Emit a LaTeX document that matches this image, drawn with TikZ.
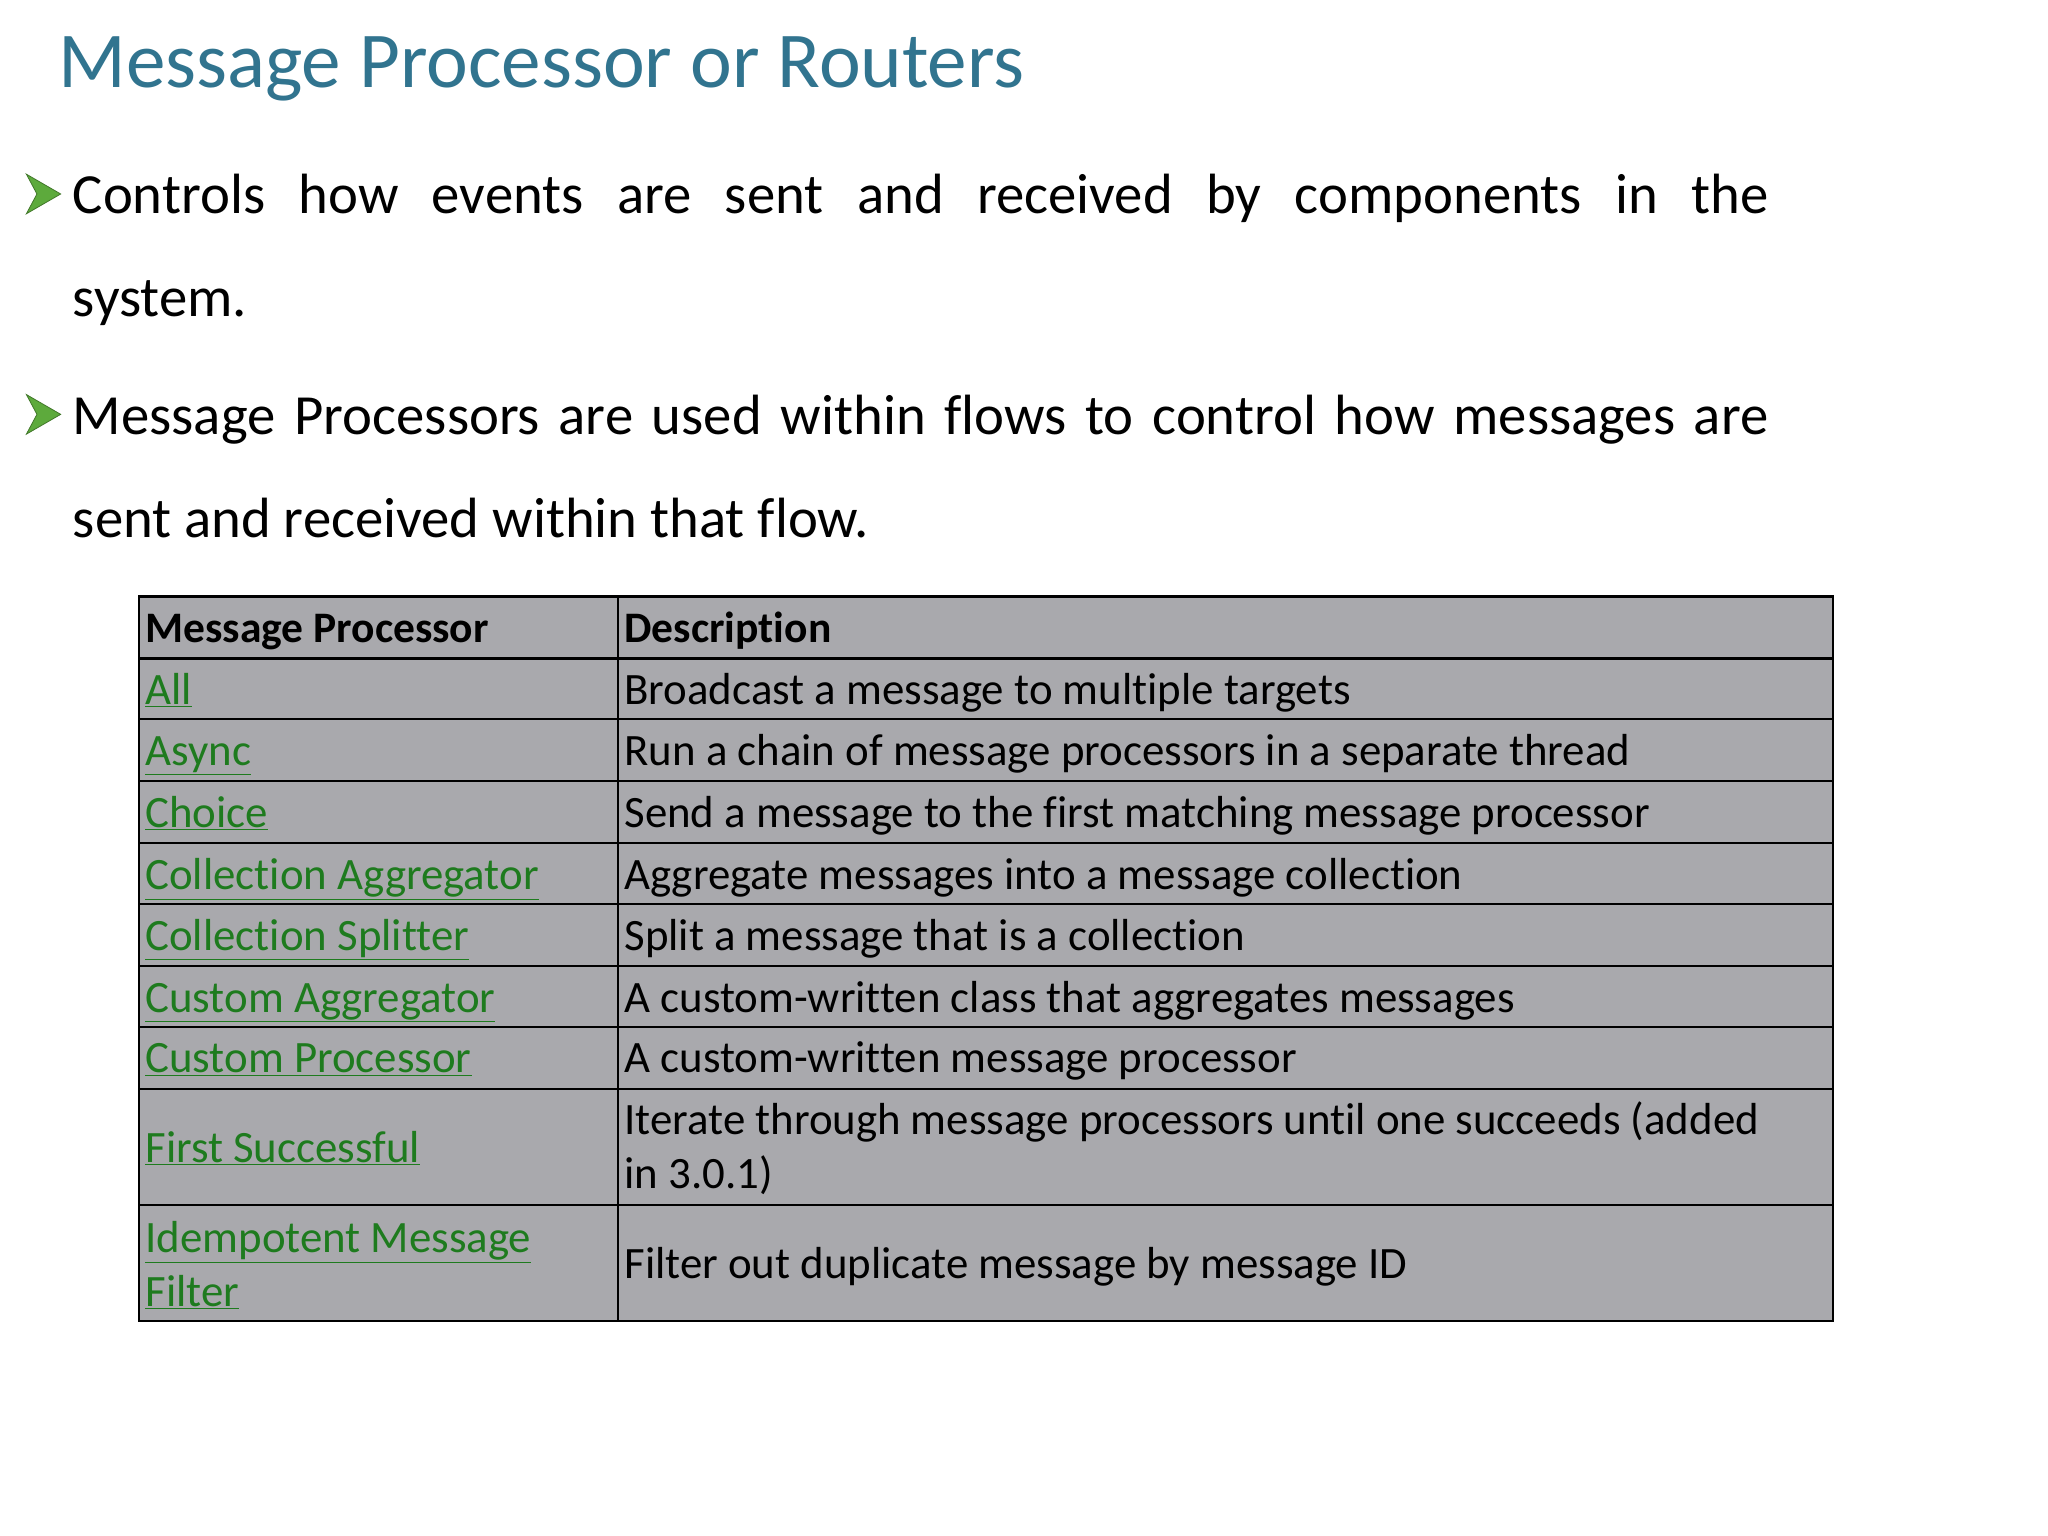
\documentclass[tikz,border=0pt]{standalone}
\usepackage{fontspec}
\setmainfont{Carlito}[Ligatures=NoCommon]
\definecolor{ttl}{HTML}{31748F}
\definecolor{lnk}{HTML}{1E7B1E}
\definecolor{cellg}{HTML}{A9A9AD}
\definecolor{bul}{HTML}{5DAA3C}
\tikzset{
 body/.style={anchor=base west,inner sep=0pt,font=\fontsize{43}{50}\selectfont},
 cell/.style={anchor=base west,inner sep=0pt,font=\fontsize{34}{40}\selectfont},
 hd/.style={cell,font=\fontsize{33}{40}\selectfont\bfseries},
 lk/.style={cell,text=lnk},
 bulletmark/.style={fill=bul,draw=bul!70!black,line width=0.6pt}
}
\newcommand{\lku}[1]{\underline{#1}}
\begin{document}
\begin{tikzpicture}[x=1pt,y=-1pt]
\useasboundingbox (0,0) rectangle (1552,1164);
\fill[white] (0,0) rectangle (1552,1164);
\node[anchor=base west,inner sep=0pt,text=ttl,font=\fontsize{60}{66}\selectfont] (title) at (44,66) {Message Processor or Routers};
% bullets
\foreach \y/\n in {147/b1,314/b2}{
 \fill[bulletmark] (20,\y-15) -- (46,\y) -- (20,\y+15) -- (28,\y) -- cycle;
}
\node[body] (t1) at (55,162) {\makebox[1285pt][s]{Controls how events are sent and received by components in the}};
\node[body] (t1b) at (55,240) {system.};
\node[body] (t2) at (55,329) {\makebox[1285pt][s]{Message Processors are used within flows to control how messages are}};
\node[body] (t2b) at (55,407) {sent and received within that flow.};
% table
\fill[cellg] (105,452) rectangle (1389,1001);
\draw[line width=1.6pt] (105,452) rectangle (1389,1001);
\foreach \y in {499,545,592,639,685,732,778,825,913}{\draw[line width=1.6pt] (105,\y) -- (1389,\y);}
\draw[line width=1.6pt] (468,452) -- (468,1001);
\node[hd] (h1) at (110,487) {Message Processor};
\node[hd] (h2) at (473,487) {Description};
\foreach \y/\a/\b [count=\i] in {
 534/All/Broadcast a message to multiple targets,
 580/Async/Run a chain of message processors in a separate thread,
 627/Choice/Send a message to the first matching message processor,
 674/Collection Aggregator/Aggregate messages into a message collection,
 720/Collection Splitter/Split a message that is a collection,
 767/Custom Aggregator/A custom-written class that aggregates messages,
 813/Custom Processor/A custom-written message processor}{
 \node[lk] (l\i) at (110,\y) {\lku{\a}};
 \node[cell] (d\i) at (473,\y) {\b};
}
\node[lk] (l8) at (110,881) {\lku{First Successful}};
\node[cell] (d8a) at (473,860) {Iterate through message processors until one succeeds (added};
\node[cell] (d8b) at (473,901) {in 3.0.1)};
\node[lk] (l9a) at (110,949) {\lku{Idempotent Message}};
\node[lk] (l9b) at (110,990) {\lku{Filter}};
\node[cell] (d9) at (473,969) {Filter out duplicate message by message ID};
\end{tikzpicture}
\end{document}
